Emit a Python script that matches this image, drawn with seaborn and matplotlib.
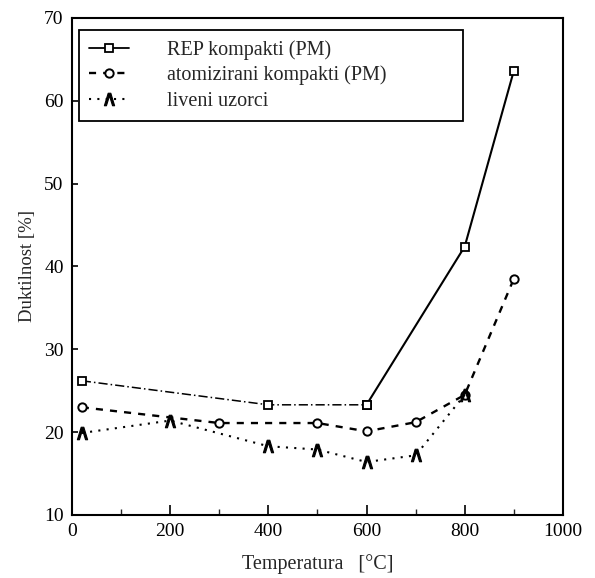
import numpy as np
import pandas as pd
import seaborn as sns
import matplotlib.pyplot as plt
from matplotlib.lines import Line2D

# values
rep_temp = [20, 400, 600, 800, 900]
rep_dukt = [26.2, 23.3, 23.3, 42.4, 63.6]

atom_temp = [20, 300, 500, 600, 700, 800, 900]
atom_dukt = [23.0, 21.1, 21.1, 20.1, 21.2, 24.5, 38.5]

cast_temp = [20, 200, 400, 500, 600, 700, 800]
cast_dukt = [19.9, 21.4, 18.3, 17.9, 16.4, 17.2, 24.5]

labels = ['REP kompakti (PM)', 'atomizirani kompakti (PM)', 'liveni uzorci']

sns.set_style('ticks')
plt.rcParams['font.family'] = ['Liberation Serif', 'DejaVu Serif']

fig = plt.figure(figsize=(5.95, 5.78), dpi=100)
ax = fig.add_axes([0.121, 0.109, 0.825, 0.860])

rep = pd.DataFrame({'t': rep_temp, 'd': rep_dukt})
atom = pd.DataFrame({'t': atom_temp, 'd': atom_dukt})
cast = pd.DataFrame({'t': cast_temp, 'd': cast_dukt})

caret = '$\\wedge$'

# REP: dash-dot part up to 600 C, solid afterwards
sns.lineplot(data=rep.iloc[:3], x='t', y='d', ax=ax, color='black', lw=1.1,
             linestyle=(0, (6, 2, 1, 2)), marker='s', markersize=6,
             markerfacecolor='white', markeredgecolor='black', markeredgewidth=1.3)
sns.lineplot(data=rep.iloc[2:], x='t', y='d', ax=ax, color='black', lw=1.5,
             linestyle='-', marker='s', markersize=6,
             markerfacecolor='white', markeredgecolor='black', markeredgewidth=1.3)
sns.lineplot(data=atom, x='t', y='d', ax=ax, color='black', lw=1.7,
             linestyle=(0, (3, 3)), marker='o', markersize=6,
             markerfacecolor='white', markeredgecolor='black', markeredgewidth=1.4)
sns.lineplot(data=cast, x='t', y='d', ax=ax, color='black', lw=1.5,
             linestyle=(0, (1, 3)), marker=caret, markersize=9,
             markerfacecolor='black', markeredgecolor='black', markeredgewidth=0.8)

ax.set_xlim(0, 1000)
ax.set_ylim(10, 70)
ax.set_xticks(np.arange(0, 1001, 200))
ax.set_xticks(np.arange(100, 1000, 200), minor=True)
ax.set_yticks(np.arange(10, 71, 10))
ax.tick_params(axis='both', which='major', direction='in', length=7, width=1.2,
               labelsize=14, colors='black', pad=6)
ax.tick_params(axis='x', which='minor', direction='in', length=4, width=1)
ax.tick_params(axis='y', which='major', length=4)
for s in ax.spines.values():
    s.set_linewidth(1.5)
    s.set_color('black')

ax.set_xlabel('Temperatura   [°C]', fontsize=14.5, labelpad=10)
ax.set_ylabel('Duktilnost [%]', fontsize=13.5, labelpad=6)

handles = [
    Line2D([], [], color='black', lw=1.3, linestyle='-', marker='s', markersize=6,
           markerfacecolor='white', markeredgewidth=1.3),
    Line2D([], [], color='black', lw=1.7, linestyle=(0, (3, 3)), marker='o', markersize=6,
           markerfacecolor='white', markeredgewidth=1.4),
    Line2D([], [], color='black', lw=1.5, linestyle=(0, (1, 3)), marker=caret,
           markersize=9, markerfacecolor='black', markeredgewidth=0.8),
]
leg = ax.legend(handles, labels, loc='upper left', bbox_to_anchor=(0.014, 0.976, 0.782, 0.0),
                mode='expand', fontsize=14.5, frameon=True, fancybox=False, edgecolor='black',
                handlelength=2.0, borderpad=0.5, labelspacing=0.3, handletextpad=1.9,
                borderaxespad=0.0)
leg.get_frame().set_linewidth(1.3)
leg.get_frame().set_alpha(1)

fig.savefig('out.png', dpi=100)
